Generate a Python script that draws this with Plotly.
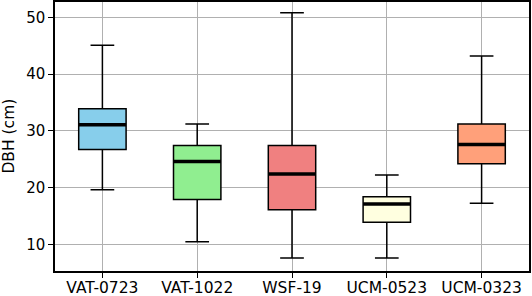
import plotly.graph_objects as go

categories = ["VAT-0723", "VAT-1022", "WSF-19", "UCM-0523", "UCM-0323"]
lower_whisker = [19.6, 10.45, 7.6, 7.6, 17.25]
q1_values = [26.7, 17.9, 16.1, 13.9, 24.2]
median_values = [31.05, 24.6, 22.4, 17.1, 27.6]
q3_values = [33.9, 27.4, 27.4, 18.4, 31.2]
upper_whisker = [45.1, 31.2, 50.8, 22.2, 43.2]
colors = ["#87CEEB", "#90EE90", "#F08080", "#FFFFE0", "#FFA07A"]
y_ticks = [10, 20, 30, 40, 50]
y_title = "DBH (cm)"

fig = go.Figure()
for i, cat in enumerate(categories):
    fig.add_trace(go.Box(
        x=[i], q1=[q1_values[i]], median=[median_values[i]], q3=[q3_values[i]],
        lowerfence=[lower_whisker[i]], upperfence=[upper_whisker[i]],
        width=0.5, whiskerwidth=0.5, fillcolor=colors[i],
        line=dict(color="black", width=1.5), boxpoints=False,
        name=cat, showlegend=False, hoverinfo="skip",
    ))
    fig.add_shape(type="line", x0=i - 0.25, x1=i + 0.25,
                  y0=median_values[i], y1=median_values[i],
                  line=dict(color="black", width=3.5), layer="above")

fig.add_annotation(text=y_title, xref="paper", yref="paper", x=-0.099, y=0.5,
                   xanchor="center", yanchor="middle", textangle=-90, showarrow=False,
                   font=dict(size=15.5, family="DejaVu Sans", color="black"))

font = dict(family="DejaVu Sans", size=15, color="black")
fig.update_layout(
    width=532, height=296,
    margin=dict(l=55, r=3, t=2, b=25, autoexpand=False),
    plot_bgcolor="white", paper_bgcolor="white",
    font=font,
    xaxis=dict(range=[-0.5, 4.5], tickmode="array", tickvals=list(range(len(categories))),
               ticktext=categories, showgrid=True, gridcolor="#b0b0b0", gridwidth=1,
               showline=True, linecolor="black", linewidth=1.5, mirror=True,
               ticks="outside", ticklen=5, tickcolor="black", zeroline=False,
               automargin=False, tickfont=dict(size=15.5), ticklabelstandoff=-3),
    yaxis=dict(range=[5.3, 52.7], tickvals=y_ticks, showgrid=True, gridcolor="#b0b0b0",
               gridwidth=1, showline=True, linecolor="black", linewidth=1.5, mirror=True,
               ticks="outside", ticklen=5, tickcolor="black", zeroline=False,
               automargin=False, tickfont=dict(size=15)),
)
fig.write_html("out.html", post_script="document.body.style.margin='0';",
               config={"displayModeBar": False})
